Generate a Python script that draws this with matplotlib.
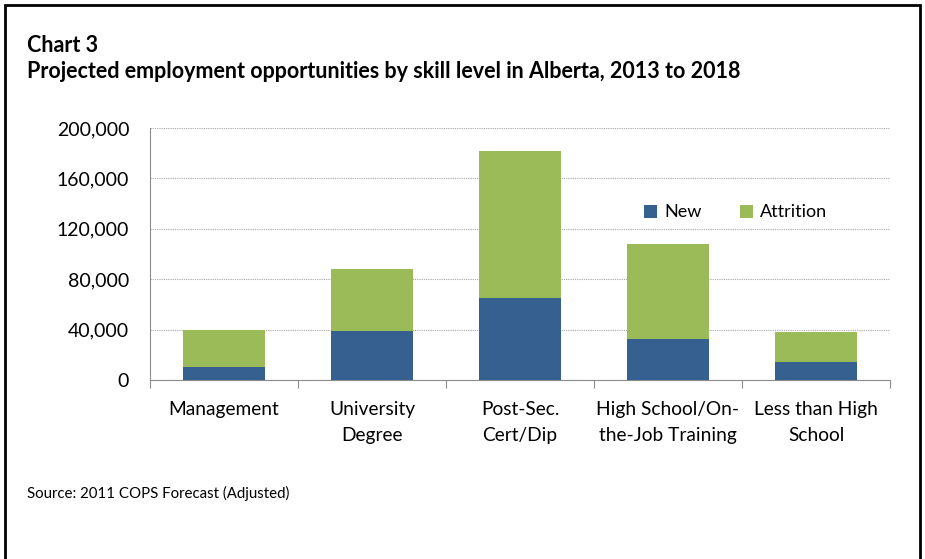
import matplotlib
matplotlib.use('Agg')
import matplotlib.pyplot as plt
from matplotlib.patches import Rectangle
from matplotlib.ticker import FuncFormatter, FixedLocator

plt.rcParams['font.family'] = ['Lato', 'DejaVu Sans']

# Employment opportunities, 2013 to 2018
categories = ['Management', 'University\nDegree', 'Post-Sec.\nCert/Dip',
              'High School/On-\nthe-Job Training', 'Less than High\nSchool']
new_jobs = [10300, 38800, 65100, 32400, 14000]
attrition = [29300, 49000, 117000, 75500, 24000]

blue = '#36608F'
green = '#9BBB59'

fig = plt.figure(figsize=(9.25, 5.59), dpi=100)
ax = fig.add_axes([150 / 925, 1 - 380 / 559, 740 / 925, 252 / 559])

x = range(len(categories))
ax.bar(x, new_jobs, width=0.555, color=blue, label='New', zorder=3)
ax.bar(x, attrition, width=0.555, bottom=new_jobs, color=green,
       label='Attrition', zorder=3)

ax.set_xlim(-0.5, len(categories) - 0.5)
ax.set_ylim(0, 200000)
ax.set_yticks(range(0, 200001, 40000))
ax.yaxis.set_major_formatter(FuncFormatter(lambda v, p: f'{int(v):,}'))
ax.grid(axis='y', color='#A6A6A6', linestyle=(0, (1, 1)), linewidth=0.8,
        zorder=0)

# category labels centred, tick marks between categories
ax.set_xticks(list(x))
ax.set_xticklabels(categories, fontsize=13.8, linespacing=1.62)
ax.tick_params(axis='x', which='major', length=0, pad=15)
ax.xaxis.set_minor_locator(FixedLocator([i - 0.5 for i in range(len(categories) + 1)]))
ax.tick_params(axis='x', which='minor', length=6, color='#8C8C8C', width=0.8)
ax.tick_params(axis='y', length=0, pad=15, labelsize=14)

for side in ['top', 'right']:
    ax.spines[side].set_visible(False)
for side in ['left', 'bottom']:
    ax.spines[side].set_color('#8C8C8C')
    ax.spines[side].set_linewidth(0.8)

ax.legend(loc='center left', bbox_to_anchor=(0.645, 0.665), ncol=2,
          frameon=False, fontsize=13, handlelength=0.75, handleheight=0.75,
          columnspacing=2.1, handletextpad=0.4)

fig.text(27 / 925, 1 - 45 / 559, 'Chart 3', fontsize=15.5, fontweight='bold',
         va='center')
fig.text(27 / 925, 1 - 72 / 559,
         'Projected employment opportunities by skill level in Alberta, 2013 to 2018',
         fontsize=15.5, fontweight='bold', va='center')
fig.text(27 / 925, 1 - 493 / 559, 'Source: 2011 COPS Forecast (Adjusted)',
         fontsize=10.8, va='center')

# outer frame
fig.patches.append(Rectangle((5 / 925, -0.01), 915 / 925, 1 - 5 / 559 + 0.01,
                             transform=fig.transFigure, fill=False,
                             edgecolor='black', linewidth=2))

fig.savefig('out.png', dpi=100)
